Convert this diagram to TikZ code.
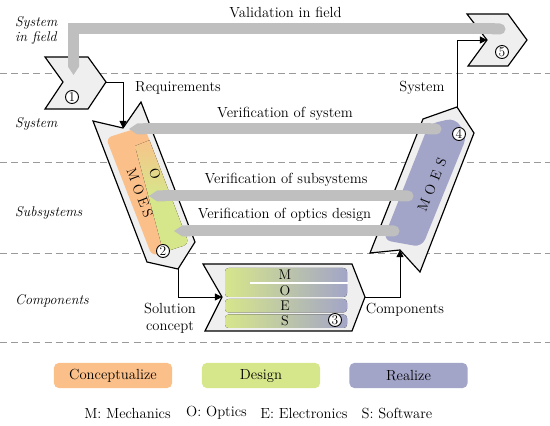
\documentclass[tikz,border=0pt]{standalone}
\usepackage{xcolor}
\definecolor{CConcept}{HTML}{FBC08A}
\definecolor{CDesign}{HTML}{D6E68A}
\definecolor{CRealize}{HTML}{A3A5C8}
\definecolor{CShell}{HTML}{EFEFEF}
\definecolor{CTrack}{HTML}{BFBFBF}
\definecolor{CLevel}{HTML}{9A9A9A}
\usepackage{tikz}
\usetikzlibrary{arrows.meta}
\tikzstyle{chevShape}=[draw=black, fill=CShell, line width=1pt, line join=miter]
\tikzstyle{levelLine}=[draw=CLevel, line width=0.8pt, dash pattern=on 6pt off 3.5pt]
\tikzstyle{levelLabel}=[anchor=west, align=left, inner sep=0pt,
  font=\fontsize{12}{13}\selectfont\itshape]
\tikzstyle{flowLabel}=[inner sep=0pt, align=center, font=\fontsize{12.5}{14.5}\selectfont]
\tikzstyle{numCircle}=[circle, draw=black, fill=white, line width=0.8pt, inner sep=0pt,
  minimum size=0.39cm, font=\fontsize{11.5}{11.5}\selectfont]
\tikzstyle{trackLine}=[draw=CTrack, line width=0.33cm, {Triangle Cap[length=+0pt 0.75]}-{Round Cap}]
\tikzstyle{flowArr}=[-{Triangle[length=6pt,width=6pt]}, line width=0.8pt]
\tikzstyle{legendBox}=[rectangle, rounded corners=4pt, minimum width=3.54cm,
  minimum height=0.75cm, font=\fontsize{12.5}{14.5}\selectfont]
\tikzstyle{letterNode}=[inner sep=0pt, font=\fontsize{12}{14}\selectfont]
\tikzstyle{barShade}=[left color=CDesign, right color=CRealize, rounded corners=3pt]

\begin{document}
\begin{tikzpicture}[x=0.03cm, y=-0.03cm]
\useasboundingbox (0,0) rectangle (550,426);

\draw[levelLine] (0,73) -- (550,73);
\draw[levelLine] (0,162) -- (550,162);
\draw[levelLine] (0,253) -- (550,253);
\draw[levelLine] (0,342) -- (550,342);

\node[levelLabel] (lvField) at (15,30.5) {System\\in field};
\node[levelLabel] (lvSystem) at (15,124) {System};
\node[levelLabel] (lvSub) at (15,213) {Subsystems};
\node[levelLabel] (lvComp) at (15,301) {Components};

\draw[chevShape] (45,57) -- (88,57) -- (106,82) -- (88,109) -- (45,109) -- (63,82) -- cycle;
\coordinate (c1tip) at (106,82);

\draw[chevShape] (467,14) -- (508,14) -- (527,40) -- (508,66) -- (468,66) -- (487,40) -- cycle;
\coordinate (c5notch) at (487,40);

\draw[chevShape] (93,121) -- (123,128) -- (141,102) -- (195,242) -- (178,269) -- (147,262) -- cycle;
\coordinate (c2notch) at (123,128);
\coordinate (c2tip) at (178,269);
\fill[CConcept, rounded corners=5pt] (106,138) -- (144,126) -- (189,244) -- (152,256) -- cycle;
\begin{scope}
\clip[rounded corners=5pt] (106,138) -- (144,126) -- (189,244) -- (152,256) -- cycle;
\fill[top color=CConcept, bottom color=CDesign, middle color=CDesign]
  (135,146) -- (165,134) -- (205,250) -- (165,258) -- cycle;
\end{scope}
\node[letterNode, rotate=-69] (c2o) at (155,174) {O};
\node[letterNode, rotate=-69] (c2moes) at (140,193) {M\hspace{3pt}O\hspace{3pt}E\hspace{3pt}S};

\draw[chevShape] (203,264) -- (352,264) -- (365,297) -- (352,331) -- (205,331) -- (222,297) -- cycle;
\coordinate (c3notch) at (222,297);
\coordinate (c3tip) at (365,297);
\fill[barShade] (225,268) rectangle (347,297);
\draw[white, line width=1.2pt] (250,283) -- (348,283);
\fill[barShade] (225,299) rectangle (347,312.5);
\fill[barShade] (225,314.5) rectangle (347,328);
\node[letterNode] (c3m) at (285,275) {M};
\node[letterNode] (c3o) at (285,290.5) {O};
\node[letterNode] (c3e) at (285,305.5) {E};
\node[letterNode] (c3s) at (285,321) {S};

\draw[chevShape] (370,253) -- (400,250) -- (420,272) -- (474,133) -- (457,107) -- (423,119) -- cycle;
\coordinate (c4notch) at (400,250);
\coordinate (c4tip) at (457,107);
\fill[CRealize, rounded corners=7pt] (429,124) -- (455,118) -- (467,136) -- (422,247) -- (383,240) -- cycle;
\node[letterNode, rotate=68] (c4moes) at (432,185) {M\hspace{4.5pt}O\hspace{4.5pt}E\hspace{4.5pt}S};

\coordinate (vfS) at (73.5,75);
\coordinate (vfE) at (505.5,29);
\coordinate (vsS) at (129,129);
\coordinate (vsE) at (441.5,129);
\coordinate (vbS) at (149,196);
\coordinate (vbE) at (413.5,196);
\coordinate (voS) at (174,231);
\coordinate (voE) at (399.5,231);
\draw[trackLine] (vfS) |- (vfE);
\draw[trackLine] (vsS) -- (vsE);
\draw[trackLine] (vbS) -- (vbE);
\draw[trackLine] (voS) -- (voE);

\node[flowLabel] (vfLbl) at (285.5,13) {Validation in field};
\node[flowLabel] (vsLbl) at (285,114) {Verification of system};
\node[flowLabel] (vbLbl) at (286,180) {Verification of subsystems};
\node[flowLabel] (voLbl) at (284.5,215) {Verification of optics design};

\draw[flowArr] (c1tip) -| (c2notch);
\draw[flowArr] (c2tip) |- (c3notch);
\draw[flowArr] (c3tip) -| (c4notch);
\draw[flowArr] (c4tip) |- (c5notch);

\node[flowLabel, anchor=west] (reqLbl) at (135,88) {Requirements};
\node[flowLabel] (sysLbl) at (422,88) {System};
\node[flowLabel] (solLbl) at (170,318) {Solution\\concept};
\node[flowLabel] (compLbl) at (405,310) {Components};

\node[numCircle] (n1) at (72,97) {1};
\node[numCircle] (n2) at (163,251) {2};
\node[numCircle] (n3) at (335,320) {3};
\node[numCircle] (n4) at (459,134) {4};
\node[numCircle] (n5) at (502,52) {5};

\node[legendBox, fill=CConcept] (lgC) at (113,375.5) {Conceptualize};
\node[legendBox, fill=CDesign] (lgD) at (261,375.5) {Design};
\node[legendBox, fill=CRealize] (lgR) at (408.5,375.5) {Realize};

\node[flowLabel] (keyM) at (127.5,413) {M: Mechanics};
\node[flowLabel] (keyO) at (216.5,413) {O: Optics};
\node[flowLabel] (keyE) at (304,413) {E: Electronics};
\node[flowLabel] (keyS) at (397,413) {S: Software};
\end{tikzpicture}
\end{document}
